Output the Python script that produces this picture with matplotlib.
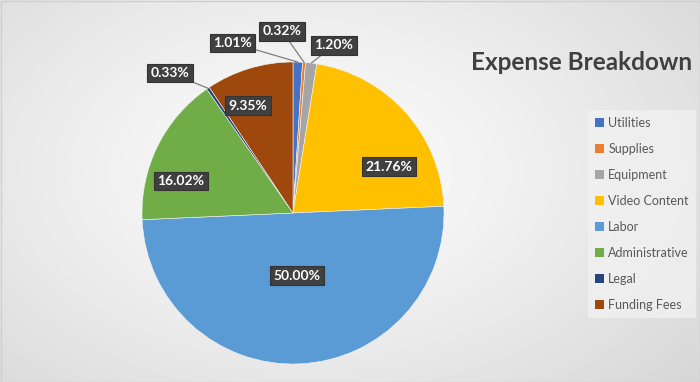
import numpy as np
import matplotlib
matplotlib.use("Agg")
import matplotlib.pyplot as plt
from matplotlib.patches import Patch

# Data
categories = ["Utilities", "Supplies", "Equipment", "Video Content",
              "Labor", "Administrative", "Legal", "Funding Fees"]
shares = [1.01, 0.32, 1.20, 21.76, 50.00, 16.02, 0.33, 9.35]
colors = ["#4472C4", "#ED7D31", "#A5A5A5", "#FFC000",
          "#5B9BD5", "#70AD47", "#264478", "#9E480E"]
title = "Expense Breakdown"

# label box centres in axis units (pie radius = 1), and whether a leader line is drawn
label_pos = [(-0.40, 1.126), (-0.073, 1.205), (0.27, 1.11), (0.636, 0.305),
             (0.026, -0.417), (-0.742, 0.212), (-0.815, 0.927), (-0.30, 0.71)]
leader = [True, True, True, False, False, False, True, False]

plt.rcParams['font.family'] = ['Lato', 'DejaVu Sans']

W, H = 700, 382
fig = plt.figure(figsize=(W / 100, H / 100), dpi=100)

# radial grey background
bg = fig.add_axes([0, 0, 1, 1])
yy, xx = np.mgrid[0:H, 0:W]
d = np.sqrt(((xx - 310) / 520.0) ** 2 + ((yy - 170) / 330.0) ** 2)
d = np.clip(d, 0, 1)
shade = 0.985 - 0.15 * d ** 1.3
bg.imshow(shade, cmap="gray", vmin=0, vmax=1, extent=[0, W, H, 0], aspect="auto")
bg.set_xlim(0, W)
bg.set_ylim(H, 0)
bg.axis("off")
bg.add_patch(plt.Rectangle((0.5, 0.5), W - 1, H - 1, fill=False, ec="#cfcfcf", lw=1))

# pie axes: centre (293, 213) px, radius 151 px
R = 151
cx, cy = 293, 213
ax = fig.add_axes([(cx - R) / W, (H - cy - R) / H, 2 * R / W, 2 * R / H])
wedges, _ = ax.pie(shares, colors=colors, startangle=90, counterclock=False,
                   radius=1, wedgeprops=dict(linewidth=0.4, edgecolor="#f4f4f4"))
ax.set_xlim(-1, 1)
ax.set_ylim(-1, 1)
ax.set_aspect("equal")

total = sum(shares)
cum = np.cumsum([0] + shares[:-1])
for i, v in enumerate(shares):
    mid = np.deg2rad(90 - 360 * (cum[i] + v / 2) / total)
    tip = (np.cos(mid), np.sin(mid))
    box = dict(boxstyle="square,pad=0.25", fc="#404040", ec="#333333", lw=0.8)
    if leader[i]:
        ax.annotate(f"{v:.2f}%", xy=tip, xytext=label_pos[i],
                    ha="center", va="center", color="white", fontsize=10,
                    fontweight="bold", bbox=box,
                    arrowprops=dict(arrowstyle="-", color="#7f7f7f", lw=0.9,
                                    shrinkA=0, shrinkB=0))
    else:
        ax.text(label_pos[i][0], label_pos[i][1], f"{v:.2f}%",
                ha="center", va="center", color="white", fontsize=10,
                fontweight="bold", bbox=box)

fig.text(582 / W, 1 - 62 / H, title, ha="center", va="center",
         fontsize=17.5, fontweight="bold", color="#404040")

handles = [Patch(facecolor=c, edgecolor="none") for c in colors]
leg = fig.legend(handles, categories, loc="center", bbox_to_anchor=(642 / W, 1 - 214 / H),
                 frameon=True, fontsize=9, labelcolor="#595959",
                 handlelength=0.7, handleheight=0.7, handletextpad=0.35,
                 labelspacing=1.12, borderpad=0.55, fancybox=False)
leg.get_frame().set_facecolor("#f1f1f1")
leg.get_frame().set_edgecolor("none")

fig.savefig("out.png", dpi=100)
